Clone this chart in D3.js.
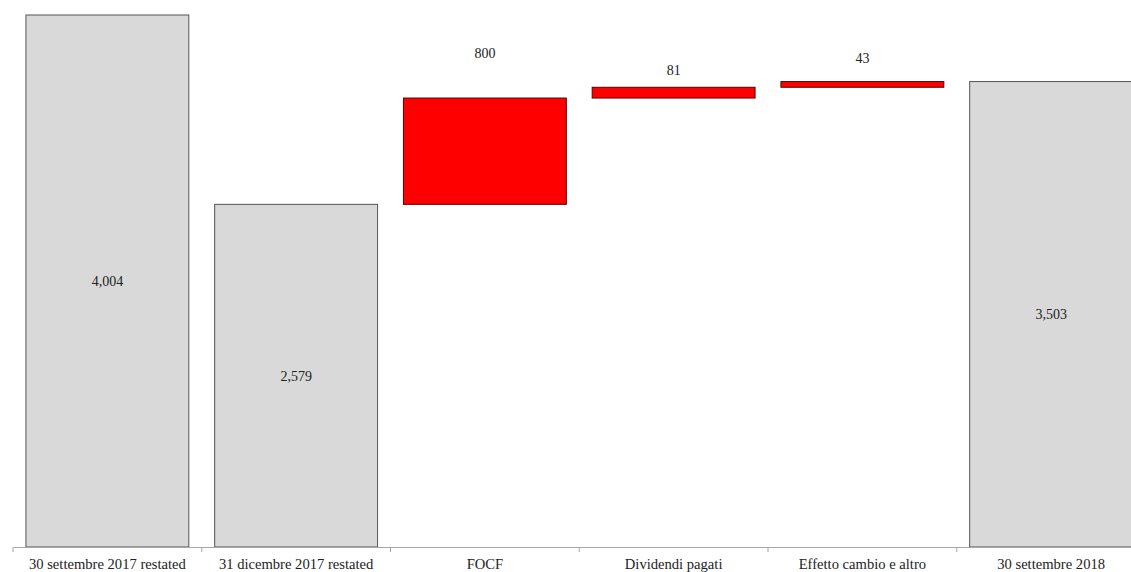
<!DOCTYPE html>
<html><head><meta charset="utf-8">
<script src="https://cdn.jsdelivr.net/npm/d3@7/dist/d3.min.js"></script>
<style>body{margin:0;background:#fff}svg{display:block}text{font-family:"Liberation Serif","Times New Roman",serif;fill:#222}</style>
</head><body><svg id="c" width="1131" height="572"></svg>
<script>
const categories = ["30 settembre 2017 restated","31 dicembre 2017 restated","FOCF","Dividendi pagati","Effetto cambio e altro","30 settembre 2018"];
const values = [4004, 2579, 800, 81, 43, 3503];
const kinds = ["total","total","delta","delta","delta","total"];
const labels = ["4,004","2,579","800","81","43","3,503"];

let running = 0;
const data = categories.map((c,i)=>{
  let y0,y1;
  if(kinds[i]==="total"){ y0=0; y1=values[i]; running=values[i]; }
  else { y0=running; y1=running+values[i]; running=y1; }
  return {c, v:values[i], kind:kinds[i], label:labels[i], y0, y1, i};
});

const svg = d3.select("#c");
const x = d3.scaleBand().domain(categories).range([13,1145.5]).paddingInner(0.137).paddingOuter(0.0685);
const y = d3.scaleLinear().domain([0,4004]).range([547,15]);

svg.selectAll("rect.bar").data(data).join("rect")
  .attr("x", d=>x(d.c)).attr("width", x.bandwidth())
  .attr("y", d=>y(Math.max(d.y0,d.y1))).attr("height", d=>Math.abs(y(d.y0)-y(d.y1)))
  .attr("fill", d=>d.kind==="total"?"#d9d9d9":"#ff0000")
  .attr("stroke", d=>d.kind==="total"?"#555":"#5a0000")
  .attr("stroke-width",1);

const axis = d3.axisBottom(x).tickSize(5).tickSizeOuter(0);
const g = svg.append("g").attr("transform","translate(0,547)").call(axis);
g.select(".domain").attr("stroke","#a6a6a6");
g.selectAll(".tick line").remove();
const bounds = d3.range(categories.length+1).map(i=>x.range()[0]+i*x.step());
g.selectAll("line.bt").data(bounds).join("line").attr("class","bt")
  .attr("x1",d=>d).attr("x2",d=>d).attr("y1",0).attr("y2",5).attr("stroke","#a6a6a6");
g.selectAll(".tick text").attr("y",21.5).attr("dy","0")
  .style("font-family","'Liberation Serif','Times New Roman',serif").style("font-size","14.6px").attr("fill","#222");

const aboveOffset = [0,0,45,17,23,0];
svg.selectAll("text.val").data(data).join("text").attr("class","val")
  .attr("x", d=>x(d.c)+x.bandwidth()/2)
  .attr("y", d=> d.kind==="total" ? y(d.v/2) : y(d.y1)-aboveOffset[d.i])
  .attr("dy", "0.35em")
  .attr("text-anchor","middle").style("font-size","14px")
  .text(d=>d.label);
</script></body></html>
